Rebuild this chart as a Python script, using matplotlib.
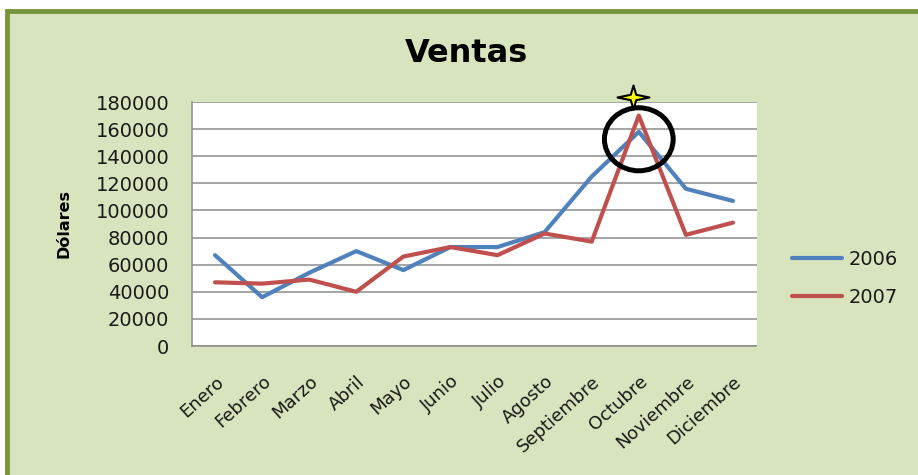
import matplotlib
matplotlib.use("Agg")
import matplotlib.pyplot as plt
from matplotlib.patches import Rectangle, Ellipse
from matplotlib.path import Path
import numpy as np

months = ["Enero", "Febrero", "Marzo", "Abril", "Mayo", "Junio", "Julio",
          "Agosto", "Septiembre", "Octubre", "Noviembre", "Diciembre"]
ventas_2006 = [67000, 36000, 54000, 70000, 56000, 73000, 73000, 84000,
               125000, 158000, 116000, 107000]
ventas_2007 = [47000, 46000, 49000, 40000, 66000, 73000, 67000, 83000,
               77000, 170000, 82000, 91000]
yticks = [0, 20000, 40000, 60000, 80000, 100000, 120000, 140000, 160000, 180000]

FONT = ["DejaVu Sans"]
plt.rcParams["font.family"] = FONT

W, H = 918, 475
fig = plt.figure(figsize=(W / 100, H / 100), dpi=100)
fig.patch.set_facecolor("white")

# chart frame (green background with dark green border)
frame = Rectangle((6.5 / W, -0.2), 1.2, 1.2 - 10.5 / H,
                  transform=fig.transFigure, facecolor="#D7E4BD",
                  edgecolor="#77933C", linewidth=3.5, zorder=-5)
fig.add_artist(frame)

ax = fig.add_axes([191.5 / W, 129 / H, 565 / W, 244 / H])
ax.set_zorder(2)
ax.set_facecolor("white")
x = np.arange(len(months))
ax.plot(x, ventas_2006, color="#4F81BD", lw=3.0, label="2006", solid_capstyle="round", zorder=3)
ax.plot(x, ventas_2007, color="#C0504D", lw=3.0, label="2007", solid_capstyle="round", zorder=3)

ax.set_xlim(-0.5, len(months) - 0.5)
ax.set_ylim(0, 180000)
ax.set_yticks(yticks)
ax.set_yticklabels([str(v) for v in yticks], fontsize=14, color="#1a1a1a")
ax.yaxis.grid(True, color="#8C8C8C", lw=1.1)
ax.set_axisbelow(True)
ax.set_xticks(x)
ax.set_xticklabels(months, fontsize=13, rotation=42, ha="right", va="top",
                   rotation_mode="anchor", color="#1a1a1a")
ax.tick_params(axis="y", length=0, pad=16)
ax.tick_params(axis="x", length=0, pad=19)
for s in ["top", "right"]:
    ax.spines[s].set_visible(False)
for s in ["left", "bottom"]:
    ax.spines[s].set_color("#8C8C8C")
    ax.spines[s].set_linewidth(1.1)

ax.set_ylabel("Dólares", fontsize=11.5, fontweight="bold", labelpad=17)

fig.text(466 / W, 1 - 53 / H, "Ventas", ha="center", va="center",
         fontsize=23, fontweight="bold", color="black")

# highlight on October peak
peak = int(np.argmax(ventas_2007))
ax.add_patch(Ellipse((peak, 152500), 1.46, 46500, fill=False,
                     edgecolor="black", lw=3.6, zorder=5, clip_on=False))
r_in = 0.24
verts = []
for k in range(8):
    a = np.pi / 4 * k
    if k % 2 == 0:
        verts.append((np.cos(a), 0.75 * np.sin(a)))
    else:
        verts.append((r_in * np.cos(a), r_in * np.sin(a)))
verts.append(verts[0])
star = Path(verts, closed=True)
ax.plot([peak - 0.13], [184000], marker=star, markersize=23, color="#FFFF00",
        markeredgecolor="black", markeredgewidth=1.5, clip_on=False, zorder=6)

leg = fig.legend(loc="center left", bbox_to_anchor=(774 / W, 1 - 278.5 / H),
                 frameon=False, fontsize=14, handlelength=2.6,
                 handletextpad=0.36, labelspacing=0.95)
for t in leg.get_texts():
    t.set_color("#1a1a1a")

fig.savefig("out.png", dpi=100, facecolor=fig.get_facecolor())
